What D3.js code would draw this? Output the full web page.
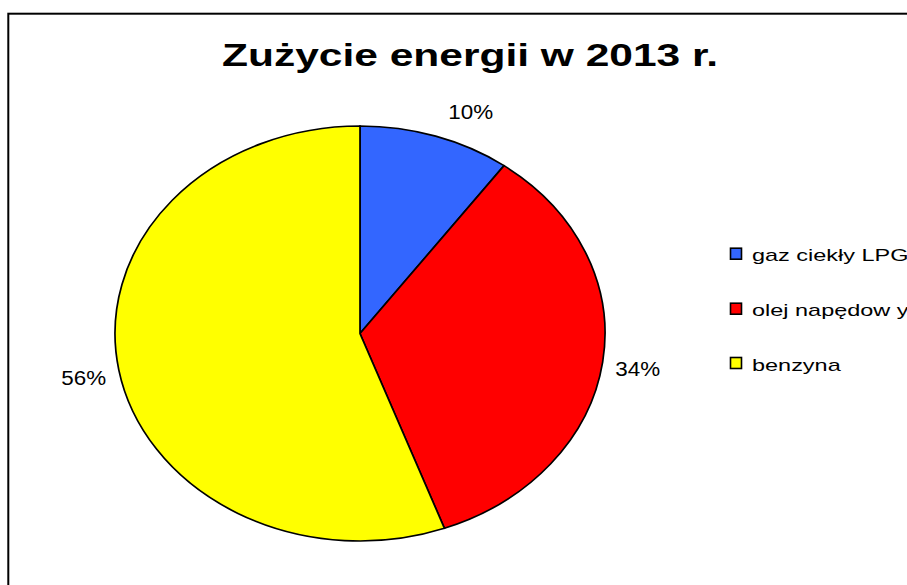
<!DOCTYPE html>
<html><head><meta charset="utf-8">
<script src="https://cdn.jsdelivr.net/npm/d3@7"></script>
<style>body{margin:0;background:#fff;}svg{display:block;font-family:"Liberation Sans",Arial,sans-serif;}</style>
</head><body>
<svg id="c" width="907" height="585"></svg>
<script>
const categories = ["gaz ciekły LPG", "olej napędowy", "benzyna"];
const legendLabels = ["gaz ciekły LPG", "olej napędow y", "benzyna"];
const values = [10.0, 34.4, 55.6];
const pctLabels = ["10%", "34%", "56%"];
const colors = ["#3366FF", "#FF0000", "#FFFF00"];
const title = "Zużycie energii w 2013 r.";

const svg = d3.select("#c");
svg.append("rect").attr("x", 8.3).attr("y", 13.7).attr("width", 1000).attr("height", 1000)
  .attr("fill", "#fff").attr("stroke", "#000").attr("stroke-width", 2);

// stretched text helper (reference text is horizontally stretched)
function stretched(sel, k) {
  sel.each(function () {
    const w = this.getComputedTextLength();
    d3.select(this).attr("textLength", w * k).attr("lengthAdjust", "spacingAndGlyphs");
  });
  return sel;
}

svg.append("text").attr("x", 470).attr("y", 66).attr("text-anchor", "middle")
  .attr("font-size", 31).attr("font-weight", "bold")
  .attr("textLength", 496).attr("lengthAdjust", "spacingAndGlyphs").text(title);

const cx = 360, cy = 333.5, rx = 245, ry = 207.5;
const pie = d3.pie().sort(null).value(d => d)(values);
const arc = d3.arc().innerRadius(0).outerRadius(rx);
const g = svg.append("g").attr("transform", `translate(${cx},${cy}) scale(1,${ry/rx})`);
g.selectAll("path").data(pie).join("path")
  .attr("d", arc).attr("fill", (d, i) => colors[i])
  .attr("stroke", "#000").attr("stroke-width", 1.7).attr("vector-effect", "non-scaling-stroke");

// percentage labels outside the ellipse
pie.forEach((d, i) => {
  const a = (d.startAngle + d.endAngle) / 2;
  const px = cx + rx * Math.sin(a), py = cy - ry * Math.cos(a);
  const x = px + 35 * Math.sign(Math.sin(a));
  const y = py - 26 * Math.cos(a) + (i === 0 ? 0 : 3);
  const lab = svg.append("text").attr("x", x).attr("y", y + 7.3).attr("text-anchor", "middle")
    .attr("font-size", 20).text(pctLabels[i]);
  stretched(lab, 1.12);
});

const leg = svg.append("g");
const ly = [253.7, 308.7, 363];
legendLabels.forEach((txt, i) => {
  leg.append("rect").attr("x", 730.5).attr("y", ly[i] - 5.5).attr("width", 11).attr("height", 11)
    .attr("fill", colors[i]).attr("stroke", "#000").attr("stroke-width", 1.6);
  const tt = leg.append("text").attr("x", 752).attr("y", ly[i] + 7.5).attr("font-size", 17).text(txt);
  stretched(tt, 1.38);
});
</script>
</body></html>
